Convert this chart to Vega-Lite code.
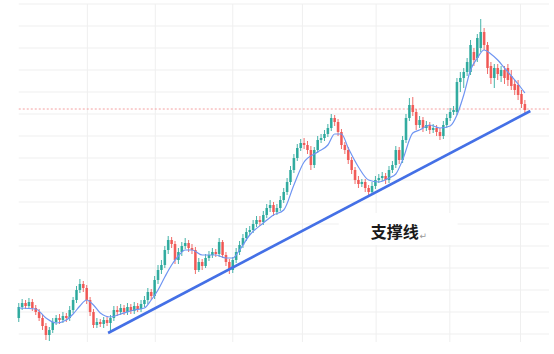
{
  "$schema": "https://vega.github.io/schema/vega-lite/v6.json",
  "width": 554,
  "height": 354,
  "autosize": "none",
  "padding": 0,
  "background": "#ffffff",
  "config": {"view": {"stroke": null}},
  "datasets": {
    "candles": [
      {"i":0,"o":32,"c":43,"h":47,"l":28},{"i":1,"o":43,"c":47,"h":51,"l":40},{"i":2,"o":47,"c":44,"h":50,"l":41},{"i":3,"o":44,"c":48,"h":52,"l":42},{"i":4,"o":48,"c":42,"h":51,"l":39},
      {"i":5,"o":42,"c":38,"h":45,"l":35},{"i":6,"o":38,"c":32,"h":41,"l":29},{"i":7,"o":32,"c":24,"h":35,"l":20},{"i":8,"o":24,"c":15,"h":27,"l":10},{"i":9,"o":15,"c":20,"h":23,"l":9},
      {"i":10,"o":20,"c":28,"h":32,"l":17},{"i":11,"o":28,"c":32,"h":35,"l":25},{"i":12,"o":32,"c":30,"h":36,"l":26},{"i":13,"o":30,"c":34,"h":38,"l":27},{"i":14,"o":34,"c":32,"h":37,"l":28},
      {"i":15,"o":32,"c":40,"h":44,"l":29},{"i":16,"o":40,"c":50,"h":53,"l":37},{"i":17,"o":50,"c":60,"h":64,"l":47},{"i":18,"o":60,"c":66,"h":71,"l":57},{"i":19,"o":66,"c":62,"h":69,"l":58},
      {"i":20,"o":62,"c":50,"h":65,"l":46},{"i":21,"o":50,"c":38,"h":53,"l":34},{"i":22,"o":38,"c":25,"h":41,"l":22},{"i":23,"o":25,"c":28,"h":32,"l":22},{"i":24,"o":28,"c":26,"h":31,"l":23},
      {"i":25,"o":26,"c":30,"h":33,"l":22},{"i":26,"o":30,"c":27,"h":34,"l":24},{"i":27,"o":27,"c":32,"h":35,"l":18},{"i":28,"o":32,"c":40,"h":44,"l":29},{"i":29,"o":40,"c":38,"h":44,"l":34},
      {"i":30,"o":38,"c":42,"h":46,"l":35},{"i":31,"o":42,"c":38,"h":45,"l":35},{"i":32,"o":38,"c":43,"h":47,"l":35},{"i":33,"o":43,"c":39,"h":46,"l":36},{"i":34,"o":39,"c":44,"h":48,"l":36},
      {"i":35,"o":44,"c":41,"h":47,"l":38},{"i":36,"o":41,"c":46,"h":50,"l":38},{"i":37,"o":46,"c":50,"h":54,"l":43},{"i":38,"o":50,"c":58,"h":62,"l":46},{"i":39,"o":58,"c":54,"h":61,"l":50},
      {"i":40,"o":54,"c":70,"h":74,"l":51},{"i":41,"o":70,"c":80,"h":85,"l":66},{"i":42,"o":80,"c":85,"h":90,"l":76},{"i":43,"o":85,"c":100,"h":104,"l":82},{"i":44,"o":100,"c":110,"h":114,"l":96},
      {"i":45,"o":110,"c":106,"h":113,"l":102},{"i":46,"o":106,"c":90,"h":109,"l":86},{"i":47,"o":90,"c":98,"h":102,"l":86},{"i":48,"o":98,"c":104,"h":108,"l":94},{"i":49,"o":104,"c":107,"h":112,"l":101},
      {"i":50,"o":107,"c":102,"h":110,"l":98},{"i":51,"o":102,"c":100,"h":106,"l":96},{"i":52,"o":100,"c":80,"h":103,"l":76},{"i":53,"o":80,"c":88,"h":92,"l":78},{"i":54,"o":88,"c":84,"h":91,"l":80},
      {"i":55,"o":84,"c":92,"h":96,"l":82},{"i":56,"o":92,"c":95,"h":99,"l":89},{"i":57,"o":95,"c":98,"h":102,"l":92},{"i":58,"o":98,"c":96,"h":101,"l":93},{"i":59,"o":96,"c":108,"h":112,"l":93},
      {"i":60,"o":108,"c":95,"h":110,"l":92},{"i":61,"o":95,"c":88,"h":98,"l":84},{"i":62,"o":88,"c":80,"h":91,"l":76},{"i":63,"o":80,"c":90,"h":93,"l":77},{"i":64,"o":90,"c":98,"h":102,"l":87},
      {"i":65,"o":98,"c":105,"h":109,"l":95},{"i":66,"o":105,"c":112,"h":116,"l":102},{"i":67,"o":112,"c":118,"h":122,"l":109},{"i":68,"o":118,"c":120,"h":124,"l":115},{"i":69,"o":120,"c":126,"h":130,"l":117},
      {"i":70,"o":126,"c":130,"h":134,"l":123},{"i":71,"o":130,"c":128,"h":134,"l":124},{"i":72,"o":128,"c":135,"h":139,"l":125},{"i":73,"o":135,"c":142,"h":146,"l":132},{"i":74,"o":142,"c":145,"h":150,"l":138},
      {"i":75,"o":145,"c":138,"h":148,"l":134},{"i":76,"o":138,"c":142,"h":146,"l":135},{"i":77,"o":142,"c":150,"h":154,"l":139},{"i":78,"o":150,"c":158,"h":162,"l":147},{"i":79,"o":158,"c":168,"h":172,"l":155},
      {"i":80,"o":168,"c":180,"h":184,"l":165},{"i":81,"o":180,"c":192,"h":196,"l":177},{"i":82,"o":192,"c":202,"h":206,"l":189},{"i":83,"o":202,"c":207,"h":211,"l":199},{"i":84,"o":207,"c":205,"h":212,"l":201},
      {"i":85,"o":205,"c":200,"h":209,"l":196},{"i":86,"o":200,"c":185,"h":204,"l":180},{"i":87,"o":185,"c":200,"h":203,"l":182},{"i":88,"o":200,"c":210,"h":214,"l":197},{"i":89,"o":210,"c":212,"h":216,"l":207},
      {"i":90,"o":212,"c":216,"h":220,"l":209},{"i":91,"o":216,"c":222,"h":226,"l":213},{"i":92,"o":222,"c":232,"h":236,"l":219},{"i":93,"o":232,"c":228,"h":235,"l":224},{"i":94,"o":228,"c":218,"h":231,"l":214},
      {"i":95,"o":218,"c":205,"h":221,"l":201},{"i":96,"o":205,"c":200,"h":208,"l":196},{"i":97,"o":200,"c":190,"h":203,"l":186},{"i":98,"o":190,"c":180,"h":193,"l":176},{"i":99,"o":180,"c":170,"h":183,"l":166},
      {"i":100,"o":170,"c":166,"h":174,"l":162},{"i":101,"o":166,"c":168,"h":171,"l":163},{"i":102,"o":168,"c":162,"h":171,"l":158},{"i":103,"o":162,"c":158,"h":165,"l":154},{"i":104,"o":158,"c":164,"h":168,"l":156},
      {"i":105,"o":164,"c":170,"h":174,"l":161},{"i":106,"o":170,"c":172,"h":176,"l":167},{"i":107,"o":172,"c":174,"h":178,"l":169},{"i":108,"o":174,"c":170,"h":177,"l":166},{"i":109,"o":170,"c":180,"h":184,"l":167},
      {"i":110,"o":180,"c":185,"h":189,"l":177},{"i":111,"o":185,"c":200,"h":204,"l":182},{"i":112,"o":200,"c":190,"h":203,"l":186},{"i":113,"o":190,"c":210,"h":214,"l":187},{"i":114,"o":210,"c":232,"h":236,"l":207},
      {"i":115,"o":232,"c":245,"h":252,"l":229},{"i":116,"o":245,"c":238,"h":253,"l":234},{"i":117,"o":238,"c":225,"h":241,"l":220},{"i":118,"o":225,"c":230,"h":234,"l":222},{"i":119,"o":230,"c":222,"h":233,"l":218},
      {"i":120,"o":222,"c":225,"h":229,"l":219},{"i":121,"o":225,"c":220,"h":228,"l":216},{"i":122,"o":220,"c":222,"h":226,"l":217},{"i":123,"o":222,"c":218,"h":225,"l":214},{"i":124,"o":218,"c":214,"h":222,"l":210},
      {"i":125,"o":214,"c":225,"h":229,"l":211},{"i":126,"o":225,"c":232,"h":236,"l":222},{"i":127,"o":232,"c":238,"h":242,"l":229},{"i":128,"o":238,"c":240,"h":244,"l":235},{"i":129,"o":238,"c":268,"h":272,"l":235},
      {"i":130,"o":268,"c":272,"h":278,"l":258},{"i":131,"o":272,"c":278,"h":282,"l":262},{"i":132,"o":278,"c":288,"h":292,"l":274},{"i":133,"o":278,"c":305,"h":310,"l":275},{"i":134,"o":298,"c":290,"h":302,"l":284},
      {"i":135,"o":292,"c":312,"h":316,"l":288},{"i":136,"o":302,"c":318,"h":331,"l":298},{"i":137,"o":318,"c":305,"h":322,"l":300},{"i":138,"o":305,"c":282,"h":308,"l":276},{"i":139,"o":284,"c":272,"h":288,"l":266},
      {"i":140,"o":272,"c":282,"h":286,"l":262},{"i":141,"o":282,"c":276,"h":286,"l":270},{"i":142,"o":274,"c":280,"h":284,"l":268},{"i":143,"o":280,"c":272,"h":284,"l":266},{"i":144,"o":282,"c":270,"h":286,"l":264},
      {"i":145,"o":274,"c":264,"h":280,"l":260},{"i":146,"o":266,"c":260,"h":270,"l":255},{"i":147,"o":265,"c":255,"h":270,"l":250},{"i":148,"o":256,"c":246,"h":260,"l":242},{"i":149,"o":246,"c":240,"h":250,"l":236}
    ],
    "ma": [
      {"i":0,"p":42},{"i":5,"p":41},{"i":8,"p":32},{"i":11,"p":27},{"i":14,"p":30},{"i":16,"p":36},{"i":18,"p":44},{"i":20,"p":50},{"i":22,"p":45},{"i":24,"p":37},
      {"i":27,"p":33},{"i":30,"p":36},{"i":34,"p":40},{"i":37,"p":42},{"i":39,"p":50},{"i":41,"p":60},{"i":43,"p":73},{"i":45,"p":85},{"i":47,"p":94},{"i":49,"p":100},
      {"i":51,"p":100},{"i":54,"p":95},{"i":58,"p":95},{"i":61,"p":92},{"i":63,"p":92},{"i":65,"p":100},{"i":68,"p":115},{"i":72,"p":127},{"i":75,"p":135},{"i":78,"p":140},
      {"i":81,"p":165},{"i":84,"p":188},{"i":88,"p":198},{"i":91,"p":205},{"i":93,"p":216},{"i":95,"p":216},{"i":97,"p":202},{"i":100,"p":183},{"i":103,"p":170},{"i":106,"p":168},
      {"i":109,"p":172},{"i":111,"p":176},{"i":113,"p":190},{"i":116,"p":217},{"i":118,"p":220},{"i":121,"p":225},{"i":124,"p":222},{"i":127,"p":224},{"i":129,"p":235},{"i":131,"p":255},
      {"i":133,"p":280},{"i":135,"p":292},{"i":137,"p":300},{"i":139,"p":296},{"i":141,"p":290},{"i":143,"p":282},{"i":145,"p":274},{"i":147,"p":266},{"i":149,"p":257}
    ],
    "hgrid": [
      {"p":346},{"p":324},{"p":302},{"p":280},{"p":258},{"p":236},{"p":214},{"p":192},{"p":170},{"p":148},{"p":126},{"p":104},{"p":82},{"p":60},{"p":38},{"p":16}
    ],
    "vgrid": [
      {"i":20.2},{"i":40.2},{"i":63},{"i":83.5},{"i":105.2},{"i":126.9},{"i":147.7}
    ],
    "support": [
      {"i":26.3,"p":17},{"i":150.6,"p":239}
    ]
  },
  "layer": [
    {
      "data": {"name": "hgrid"},
      "mark": {"type": "rule", "color": "#efefef", "strokeWidth": 1},
      "encoding": {
        "y": {"field": "p", "type": "quantitative", "scale": {"domain": [-4, 350], "nice": false, "zero": false}, "axis": null},
        "x": {"datum": 0, "type": "quantitative", "scale": {"domain": [-4.05, 156.1], "nice": false, "zero": false}, "axis": null},
        "x2": {"datum": 156.1}
      }
    },
    {
      "data": {"name": "vgrid"},
      "mark": {"type": "rule", "color": "#efefef", "strokeWidth": 1},
      "encoding": {
        "x": {"field": "i", "type": "quantitative"},
        "y": {"datum": 346, "type": "quantitative"},
        "y2": {"datum": 8}
      }
    },
    {
      "data": {"values": [{"a": 1}]},
      "mark": {"type": "rect", "color": "#ffffff"},
      "encoding": {
        "x": {"datum": 94.2, "type": "quantitative"},
        "x2": {"datum": 129.2},
        "y": {"datum": 105, "type": "quantitative"},
        "y2": {"datum": 137}
      }
    },
    {
      "data": {"values": [{"a": 1}]},
      "mark": {"type": "rule", "color": "#f4a0a0", "strokeWidth": 1, "strokeDash": [2, 2]},
      "encoding": {
        "y": {"datum": 241, "type": "quantitative"},
        "x": {"datum": 0, "type": "quantitative"},
        "x2": {"datum": 156.1}
      }
    },
    {
      "data": {"name": "candles"},
      "mark": {"type": "rule", "strokeWidth": 1},
      "encoding": {
        "x": {"field": "i", "type": "quantitative"},
        "y": {"field": "l", "type": "quantitative"},
        "y2": {"field": "h"},
        "color": {"condition": {"test": "datum.c > datum.o", "value": "#26a69a"}, "value": "#ef5350"},
        "opacity": {"value": 0.85}
      }
    },
    {
      "data": {"name": "candles"},
      "mark": {"type": "bar", "size": 2.6, "orient": "vertical"},
      "encoding": {
        "x": {"field": "i", "type": "quantitative"},
        "y": {"field": "o", "type": "quantitative"},
        "y2": {"field": "c"},
        "color": {"condition": {"test": "datum.c > datum.o", "value": "#26a69a"}, "value": "#ef5350"},
        "opacity": {"value": 0.9}
      }
    },
    {
      "data": {"name": "ma"},
      "mark": {"type": "line", "color": "#6f95f2", "strokeWidth": 1.2, "interpolate": "monotone"},
      "encoding": {
        "x": {"field": "i", "type": "quantitative"},
        "y": {"field": "p", "type": "quantitative"}
      }
    },
    {
      "data": {"name": "support"},
      "mark": {"type": "line", "color": "#4470e6", "strokeWidth": 2.6},
      "encoding": {
        "x": {"field": "i", "type": "quantitative"},
        "y": {"field": "p", "type": "quantitative"}
      }
    },
    {
      "data": {"values": [{"t": "支撑线"}]},
      "mark": {"type": "text", "font": "Noto Sans CJK SC", "fontSize": 16, "fontWeight": "bold", "color": "#1a1a1a", "align": "center", "baseline": "middle"},
      "encoding": {
        "x": {"datum": 110.7, "type": "quantitative"},
        "y": {"datum": 117, "type": "quantitative"},
        "text": {"field": "t"}
      }
    },
    {
      "data": {"values": [{"t": "↵"}]},
      "mark": {"type": "text", "font": "DejaVu Sans", "fontSize": 9, "color": "#999999", "align": "center", "baseline": "middle"},
      "encoding": {
        "x": {"datum": 119.1, "type": "quantitative"},
        "y": {"datum": 114, "type": "quantitative"},
        "text": {"field": "t"}
      }
    }
  ]
}
